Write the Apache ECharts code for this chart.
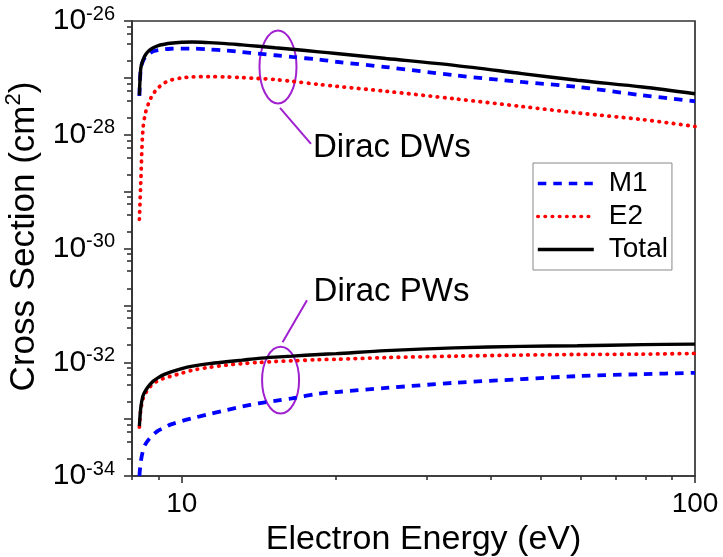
<!DOCTYPE html>
<html>
<head>
<meta charset="utf-8">
<title>Cross Section</title>
<script src="https://cdn.jsdelivr.net/npm/echarts@6/dist/echarts.min.js"></script>
<style>
  html, body { margin: 0; padding: 0; background: #fff; }
  #main { width: 723px; height: 557px; }
</style>
</head>
<body>
<div id="main"></div>
<script>
// electron energy (eV), shared by all curves
var energy = [8.27, 8.32, 8.4, 8.5, 8.65, 8.8, 9.0, 9.25, 9.5, 10, 10.5, 11.3, 12.2, 13.1, 14.1, 15.2, 16.4, 18.5, 20, 25, 34, 46, 59, 79, 100];

// Dirac DWs (cm^2)
var m1DW = [4.79e-28, 1.44e-27, 1.96e-27, 2.35e-27, 2.66e-27, 2.93e-27, 3.09e-27, 3.18e-27, 3.25e-27, 3.27e-27, 3.27e-27, 3.16e-27, 3.02e-27, 2.84e-27, 2.67e-27, 2.50e-27, 2.33e-27, 2.10e-27, 1.92e-27, 1.55e-27, 1.11e-27, 8.47e-28, 6.92e-28, 4.94e-28, 3.88e-28];
var e2DW = [3.27e-30, 1.41e-29, 1.20e-28, 2.44e-28, 3.88e-28, 5.26e-28, 6.70e-28, 8.13e-28, 9.08e-28, 1.00e-27, 1.04e-27, 1.05e-27, 1.04e-27, 1.01e-27, 9.75e-28, 9.33e-28, 8.71e-28, 7.66e-28, 7.12e-28, 5.81e-28, 4.29e-28, 3.14e-28, 2.42e-28, 1.85e-28, 1.40e-28];
var totalDW = [4.94e-28, 1.46e-27, 2.04e-27, 2.55e-27, 3.06e-27, 3.38e-27, 3.70e-27, 3.90e-27, 4.06e-27, 4.22e-27, 4.28e-27, 4.17e-27, 4.01e-27, 3.80e-27, 3.59e-27, 3.38e-27, 3.18e-27, 2.87e-27, 2.68e-27, 2.19e-27, 1.66e-27, 1.19e-27, 9.08e-28, 6.92e-28, 5.26e-28];

// Dirac PWs (cm^2)
var m1PW = [1.0e-34, 1.75e-34, 2.74e-34, 3.64e-34, 4.54e-34, 5.35e-34, 6.28e-34, 7.03e-34, 8.00e-34, 9.22e-34, 1.04e-33, 1.22e-33, 1.44e-33, 1.66e-33, 1.89e-33, 2.09e-33, 2.31e-33, 2.81e-33, 2.99e-33, 3.53e-33, 4.35e-33, 5.05e-33, 5.70e-33, 6.18e-33, 6.52e-33];
var e2PW = [7.23e-34, 1.44e-33, 2.25e-33, 2.86e-33, 3.58e-33, 4.21e-33, 4.75e-33, 5.26e-33, 5.63e-33, 6.43e-33, 7.26e-33, 8.13e-33, 8.89e-33, 9.45e-33, 9.91e-33, 1.03e-32, 1.06e-32, 1.11e-32, 1.13e-32, 1.21e-32, 1.28e-32, 1.34e-32, 1.37e-32, 1.39e-32, 1.43e-32];
var totalPW = [7.53e-34, 1.56e-33, 2.54e-33, 3.17e-33, 3.96e-33, 4.66e-33, 5.36e-33, 6.11e-33, 6.70e-33, 7.73e-33, 8.54e-33, 9.45e-33, 1.02e-32, 1.09e-32, 1.17e-32, 1.23e-32, 1.28e-32, 1.37e-32, 1.42e-32, 1.60e-32, 1.79e-32, 1.90e-32, 1.95e-32, 2.04e-32, 2.08e-32];

// ticks
var xLabels = [10, 100];
var xMinor = [8, 9, 20, 30, 40, 50, 60, 70, 80, 90];
var yLabelExp = [-34, -32, -30, -28, -26];
var yDecadeExp = [-34, -33, -32, -31, -30, -29, -28, -27, -26];
var yMinorMult = [2, 4, 6, 8];

// echarts rounds log ticks to 10 decimals, so the axis works in units of 1e-30 cm^2
var UNIT = 1e30;
var UNIT_EXP = 30;
function toAxis(exp) { return Math.pow(10, exp + UNIT_EXP); }
var yLabels = yLabelExp.map(toAxis);
var yDecades = yDecadeExp.map(toAxis);
var yMinor = [];
yDecades.slice(0, -1).forEach(function (d) {
    yMinorMult.forEach(function (m) { yMinor.push(m * d); });
});

var FONT = 'Liberation Sans, Arial, sans-serif';
var AXIS_COLOR = '#333';

function pairs(arr) {
    return energy.map(function (e, i) { return [e, arr[i] * UNIT]; });
}

var m1Style = { color: '#0000ff', width: 3.8, type: [8.5, 7] };
var e2Style = { color: '#ff0000', width: 3.8, type: [0.5, 6.7], cap: 'round' };
var totStyle = { color: '#000000', width: 3.4 };

function line(name, arr, ls) {
    return {
        name: name,
        type: 'line',
        data: pairs(arr),
        showSymbol: false,
        symbol: 'none',
        smooth: 0.3,
        lineStyle: ls,
        itemStyle: { color: ls.color },
        animation: false
    };
}

var chart = echarts.init(document.getElementById('main'));
chart.setOption({
    backgroundColor: '#fff',
    animation: false,
    textStyle: { fontFamily: FONT },
    grid: {
        left: 132, right: 28, top: 21, bottom: 81,
        show: true, borderColor: AXIS_COLOR, borderWidth: 1.7,
        outerBoundsMode: 'none'
    },
    legend: {
        data: ['M1', 'E2', 'Total'],
        orient: 'vertical',
        left: 533, top: 163,
        padding: [4, 4, 4, 3],
        itemGap: 0,
        itemWidth: 56,
        itemHeight: 33,
        borderColor: '#888',
        borderWidth: 1,
        itemStyle: { opacity: 0, borderWidth: 0 },
        lineStyle: { width: 3.6 },
        textStyle: { fontFamily: FONT, fontSize: 28, color: '#000', lineHeight: 33, padding: [0, 0, 0, 10] }
    },
    xAxis: [{
        type: 'log', logBase: 10, min: 8, max: 100,
        name: 'Electron Energy (eV)', nameLocation: 'middle', nameGap: 42,
        nameTextStyle: { fontFamily: FONT, fontSize: 34, color: '#000', padding: [0, 0, 0, 20] },
        axisLine: { lineStyle: { color: AXIS_COLOR, width: 1.7 } },
        axisTick: { length: 7, customValues: xLabels, lineStyle: { color: AXIS_COLOR, width: 1.6 } },
        axisLabel: { customValues: xLabels, fontFamily: FONT, fontSize: 28, color: '#000', margin: 14 },
        splitLine: { show: false }
    }, {
        type: 'log', logBase: 10, min: 8, max: 100, position: 'bottom',
        axisLine: { show: false },
        axisTick: { length: 4, customValues: xMinor, lineStyle: { color: AXIS_COLOR, width: 1.6 } },
        axisLabel: { show: false },
        splitLine: { show: false }
    }],
    yAxis: [{
        type: 'log', logBase: 10, min: toAxis(-34), max: toAxis(-26),
        name: '{a|Cross Section (cm}{s|2}{a|)}', nameLocation: 'middle', nameGap: 86,
        nameTextStyle: {
            color: '#000',
            padding: [0, 0, 0, 24],
            rich: {
                a: { fontFamily: FONT, fontSize: 35, color: '#000' },
                s: { fontFamily: FONT, fontSize: 22, color: '#000', padding: [0, 0, 20, 0] }
            }
        },
        axisLine: { lineStyle: { color: AXIS_COLOR, width: 1.7 } },
        axisTick: { length: 8, customValues: yDecades, lineStyle: { color: AXIS_COLOR, width: 1.6 } },
        axisLabel: {
            customValues: yLabels,
            margin: 17,
            formatter: function (v) {
                return '{b|10}{s|' + (Math.round(Math.log10(v)) - UNIT_EXP) + '}';
            },
            rich: {
                b: { fontFamily: FONT, fontSize: 30, color: '#000' },
                s: { fontFamily: FONT, fontSize: 20, color: '#000', padding: [0, 0, 14, 0] }
            }
        },
        splitLine: { show: false }
    }, {
        type: 'log', logBase: 10, min: toAxis(-34), max: toAxis(-26), position: 'left',
        axisLine: { show: false },
        axisTick: { length: 5, customValues: yMinor, lineStyle: { color: AXIS_COLOR, width: 1.6 } },
        axisLabel: { show: false },
        splitLine: { show: false }
    }],
    series: [
        line('M1', m1DW, m1Style),
        line('E2', e2DW, e2Style),
        line('Total', totalDW, totStyle),
        line('M1', m1PW, m1Style),
        line('E2', e2PW, e2Style),
        line('Total', totalPW, totStyle)
    ]
});

// annotations anchored in data space
var PURPLE = '#a020d0';
var cDW = chart.convertToPixel({ xAxisIndex: 0, yAxisIndex: 0 }, [15.4, 1.56e-27 * UNIT]);
var cPW = chart.convertToPixel({ xAxisIndex: 0, yAxisIndex: 0 }, [15.58, 4.84e-33 * UNIT]);
chart.setOption({
    graphic: [
        { type: 'ellipse', shape: { cx: cDW[0], cy: cDW[1], rx: 18.5, ry: 36.5 }, style: { fill: null, stroke: PURPLE, lineWidth: 2 } },
        { type: 'line', shape: { x1: cDW[0] + 2, y1: cDW[1] + 41, x2: cDW[0] + 33, y2: cDW[1] + 77 }, style: { stroke: PURPLE, lineWidth: 2 } },
        { type: 'text', x: cDW[0] + 35, y: cDW[1] + 81, style: { text: 'Dirac DWs', font: '33px ' + FONT, fill: '#000', textVerticalAlign: 'middle' } },
        { type: 'ellipse', shape: { cx: cPW[0], cy: cPW[1], rx: 18.5, ry: 33.3 }, style: { fill: null, stroke: PURPLE, lineWidth: 2 } },
        { type: 'line', shape: { x1: cPW[0] + 2, y1: cPW[1] - 38, x2: cPW[0] + 26.4, y2: cPW[1] - 80 }, style: { stroke: PURPLE, lineWidth: 2 } },
        { type: 'text', x: cPW[0] + 33, y: cPW[1] - 88, style: { text: 'Dirac PWs', font: '33px ' + FONT, fill: '#000', textVerticalAlign: 'middle' } }
    ]
});
</script>
</body>
</html>
